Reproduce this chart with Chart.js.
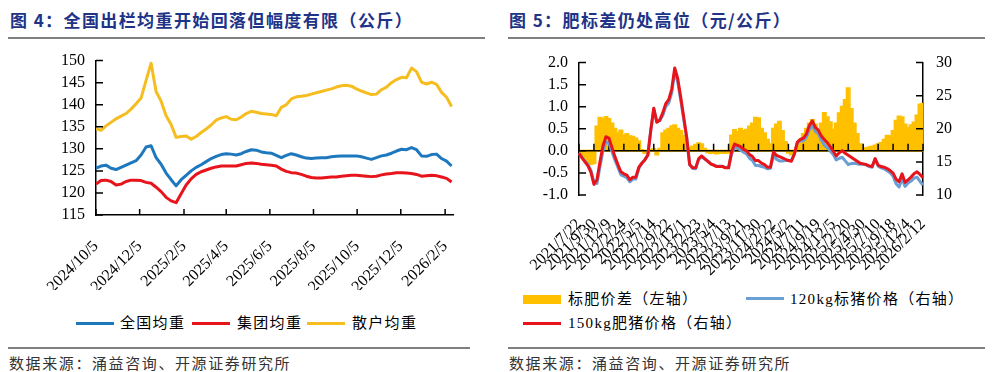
<!DOCTYPE html>
<html lang="zh-CN">
<head>
<meta charset="utf-8">
<title>出栏均重与肥标差</title>
<script src="https://cdn.jsdelivr.net/npm/chart.js@4.4.1/dist/chart.umd.min.js"></script>
<style>
  html, body { margin: 0; padding: 0; background: #fff; }
  body { width: 992px; height: 372px; position: relative; overflow: hidden; color: #000; }
  .title { position: absolute; top: 7px; font: bold 17px "Noto Sans CJK SC", sans-serif; color: #203387; letter-spacing: 1.4px; white-space: nowrap; }
  .rule { position: absolute; height: 2px; background: #7f7f7f; }
  .src { position: absolute; top: 352px; font: 15px "Noto Sans CJK SC", sans-serif; color: #333; letter-spacing: 1.6px; white-space: nowrap; }
  canvas { position: absolute; }
  .lg { position: absolute; font: 15px "Liberation Serif", "Noto Sans CJK SC", serif; letter-spacing: 1.3px; white-space: nowrap; line-height: 18px; }
  .sw { position: absolute; }
</style>
</head>
<body>
<div class="title" style="left:10px">图 4：全国出栏均重开始回落但幅度有限（公斤）</div>
<div class="rule" style="left:8px;top:37px;width:477px"></div>
<div class="title" style="left:509px">图 5：肥标差仍处高位（元/公斤）</div>
<div class="rule" style="left:508px;top:37px;width:477px"></div>

<canvas id="weight" width="496" height="250" style="left:0;top:40px"></canvas>
<canvas id="spread" width="496" height="250" style="left:496px;top:40px"></canvas>

<div class="sw" style="left:76px;top:322px;width:38px;height:3px;background:#1E78BE"></div>
<div class="lg" style="left:120px;top:314px">全国均重</div>
<div class="sw" style="left:192px;top:322px;width:38px;height:3px;background:#E8141C"></div>
<div class="lg" style="left:237px;top:314px">集团均重</div>
<div class="sw" style="left:307px;top:322px;width:38px;height:3px;background:#F5BD1F"></div>
<div class="lg" style="left:352px;top:314px">散户均重</div>

<div class="sw" style="left:523px;top:295px;width:38px;height:9px;background:#FFC000"></div>
<div class="lg" style="left:568px;top:290px">标肥价差（左轴）</div>
<div class="sw" style="left:746px;top:297px;width:38px;height:3px;background:#6A9FD6"></div>
<div class="lg" style="left:790px;top:290px">120kg标猪价格（右轴）</div>
<div class="sw" style="left:523px;top:322px;width:38px;height:3px;background:#E8141C"></div>
<div class="lg" style="left:568px;top:314px">150kg肥猪价格（右轴）</div>

<div class="rule" style="left:8px;top:347px;width:462px"></div>
<div class="src" style="left:9px">数据来源：涌益咨询、开源证券研究所</div>
<div class="rule" style="left:508px;top:347px;width:477px"></div>
<div class="src" style="left:509px">数据来源：涌益咨询、开源证券研究所</div>

<script>
// 图4 出栏均重，周度
const weightStart = '2024/10/5';
const weightTickLabels = ['2024/10/5', '2024/12/5', '2025/2/5', '2025/4/5', '2025/6/5',
  '2025/8/5', '2025/10/5', '2025/12/5', '2026/2/5'];
const nationalWeight = [125.6, 126.1, 126.3, 125.6, 125.3, 125.8, 126.3, 126.8, 127.3, 128.6,
  130.4, 130.7, 128.0, 126.5, 124.5, 123.0, 121.6, 123.0, 124.0, 125.0,
  125.8, 126.4, 127.1, 127.8, 128.3, 128.7, 128.9, 128.8, 128.6, 128.9,
  129.4, 129.8, 129.7, 129.3, 129.1, 129.0, 128.5, 128.0, 128.5, 128.9,
  128.6, 128.2, 127.9, 127.8, 127.9, 128.0, 128.0, 128.2, 128.3, 128.4,
  128.4, 128.4, 128.4, 128.2, 127.9, 127.6, 128.0, 128.4, 128.6, 129.0,
  129.5, 129.9, 129.8, 130.3, 129.8, 128.4, 128.3, 128.7, 128.8, 127.8,
  127.2, 126.1];
const groupWeight = [122.0, 122.8, 122.9, 122.6, 121.8, 122.0, 122.6, 122.9, 122.9, 122.8,
  122.4, 122.2, 121.3, 120.3, 119.0, 118.2, 117.8, 119.8, 121.8, 123.2,
  124.2, 124.8, 125.2, 125.6, 125.9, 126.1, 126.1, 126.1, 126.1, 126.4,
  126.7, 126.8, 126.7, 126.5, 126.4, 126.3, 126.1, 125.4, 124.9, 124.6,
  124.5, 124.2, 123.8, 123.5, 123.4, 123.4, 123.5, 123.6, 123.6, 123.8,
  123.9, 124.0, 124.0, 123.9, 123.8, 123.7, 123.8, 124.1, 124.3, 124.4,
  124.6, 124.6, 124.5, 124.4, 124.2, 123.8, 123.9, 124.0, 123.9, 123.6,
  123.3, 122.5];
const retailWeight = [134.6, 134.2, 135.2, 136.0, 136.8, 137.4, 138.0, 139.0, 140.2, 141.5,
  145.5, 149.4, 143.0, 140.8, 137.5, 135.5, 132.6, 132.8, 132.9, 132.2,
  132.8, 133.7, 134.5, 135.4, 136.5, 137.0, 137.3, 136.7, 136.6, 137.2,
  138.0, 138.5, 138.3, 138.0, 137.9, 137.8, 137.5, 139.4, 140.0, 141.3,
  141.8, 141.9, 142.1, 142.4, 142.7, 143.0, 143.3, 143.6, 144.0, 144.3,
  144.4, 144.2, 143.6, 143.1, 142.7, 142.3, 142.4, 143.4, 144.0, 145.0,
  145.7, 146.2, 146.1, 148.3, 147.5, 145.1, 144.7, 145.1, 144.6, 142.8,
  141.7, 139.6];

// 图5 肥标差，每个刻度间 5 个数据点
const spreadTickLabels = ['2021/7/22', '2021/9/30', '2021/12/9', '2022/2/24', '2022/5/5', '2022/7/14',
  '2022/9/22', '2022/12/1', '2023/2/23', '2023/5/4', '2023/7/13', '2023/9/21', '2023/11/30',
  '2024/2/22', '2024/5/2', '2024/7/11', '2024/9/19', '2024/12/5', '2025/2/20', '2025/4/30',
  '2025/7/10', '2025/9/18', '2025/12/4', '2026/2/12'];
const spread = [0, -0.1, -0.15, -0.25, -0.3, -0.28, 0.55, 0.75, 0.73, 0.77,
  0.72, 0.62, 0.5, 0.4, 0.46, 0.35, 0.38, 0.33, 0.32, 0.28,
  0.22, 0.02, -0.05, -0.04, 0.02, 0.04, -0.08, 0.05, 0.4, 0.46,
  0.5, 0.56, 0.58, 0.5, 0.45, 0.34, 0.05, 0.06, 0.1, 0.14,
  0.17, 0.15, 0.05, -0.03, -0.05, -0.04, -0.06, -0.05, -0.04, -0.05,
  -0.04, 0.35, 0.47, 0.43, 0.5, 0.45, 0.48, 0.55, 0.62, 0.75,
  0.74, 0.5, 0.4, 0.25, 0.15, 0.5, 0.6, 0.66, 0.45, 0.2,
  -0.04, -0.08, -0.02, 0.1, 0.25, 0.38, 0.5, 0.62, 0.7, 0.6,
  0.48, 0.62, 0.86, 0.76, 0.65, 0.48, 0.62, 0.85, 1.0, 1.15,
  1.42, 0.95, 0.62, 0.38, 0.15, 0.06, 0.06, 0.08, 0.1, 0.12,
  0.15, 0.18, 0.25, 0.34, 0.33, 0.45, 0.68, 0.78, 0.76, 0.6,
  0.52, 0.58, 0.64, 0.8, 1.05, 1.07];
const price120 = [16.3, 15.7, 15.15, 14.65, 13.7, 11.9, 11.75, 14.25, 16.65, 18.0,
  17.9, 16.6, 15.3, 14.2, 13.05, 12.85, 12.6, 12.0, 12.4, 12.4,
  14.0, 14.8, 15.35, 16.05, 19.8, 23.05, 21.1, 21.25, 22.0, 23.35,
  23.9, 25.45, 28.6, 27.1, 24.35, 21.45, 18.65, 14.55, 14.0, 13.95,
  15.35, 15.75, 15.45, 15.15, 14.75, 14.55, 14.35, 14.35, 14.35, 14.15,
  14.15, 16.15, 17.25, 17.05, 16.8, 16.45, 16.2, 15.55, 15.2, 14.45,
  14.45, 14.3, 14.2, 13.95, 14.05, 16.0, 15.4, 15.15, 15.15, 15.2,
  15.25, 15.2, 16.2, 17.9, 18.15, 18.2, 18.7, 19.9, 20.5, 19.6,
  19.3, 18.3, 17.55, 17.15, 16.65, 16.1, 15.3, 15.55, 15.7, 15.15,
  14.6, 14.75, 14.8, 14.7, 14.65, 14.65, 14.55, 14.3, 14.2, 15.4,
  14.35, 14.1, 13.95, 13.65, 13.35, 12.85, 11.7, 11.2, 12.45, 11.3,
  11.8, 12.1, 12.55, 12.7, 12.05, 11.5];
const price150 = [16.3, 15.6, 15.0, 14.4, 13.4, 11.6, 12.3, 15.0, 17.4, 18.8,
  18.6, 17.2, 15.8, 14.6, 13.5, 13.2, 13.0, 12.3, 12.7, 12.7,
  14.2, 14.8, 15.3, 16.0, 19.8, 23.1, 21.0, 21.3, 22.4, 23.8,
  24.4, 26.0, 29.2, 27.6, 24.8, 21.8, 18.7, 14.6, 14.1, 14.1,
  15.5, 15.9, 15.5, 15.1, 14.7, 14.5, 14.3, 14.3, 14.3, 14.1,
  14.1, 16.5, 17.7, 17.5, 17.3, 16.9, 16.7, 16.1, 15.8, 15.2,
  15.2, 14.8, 14.6, 14.2, 14.2, 16.5, 16.0, 15.8, 15.6, 15.4,
  15.2, 15.1, 16.2, 18.0, 18.4, 18.6, 19.2, 20.5, 21.2, 20.2,
  19.8, 18.9, 18.4, 17.9, 17.3, 16.6, 15.9, 16.4, 16.7, 16.3,
  16.0, 15.7, 15.4, 15.1, 14.8, 14.7, 14.6, 14.4, 14.3, 15.5,
  14.5, 14.3, 14.2, 14.0, 13.7, 13.3, 12.4, 12.0, 13.2, 11.9,
  12.3, 12.7, 13.2, 13.5, 13.1, 12.6];

const BLUE = '#1E78BE', RED = '#E8141C', YELLOW = '#F5BD1F';
const GOLD = '#FFC000', LIGHTBLUE = '#6A9FD6';

Chart.defaults.font.family = '"Liberation Serif", "Times New Roman", serif';
Chart.defaults.font.size = 16;
Chart.defaults.color = '#000';
Chart.defaults.animation = false;
Chart.defaults.plugins.legend.display = false;
Chart.defaults.plugins.tooltip.enabled = false;

// 日期转成距起点的天数
const day = s => {
  const [y, m, d] = s.split('/').map(Number);
  const [y0, m0, d0] = weightStart.split('/').map(Number);
  return Math.round((Date.UTC(y, m - 1, d) - Date.UTC(y0, m0 - 1, d0)) / 864e5);
};
const weekly = arr => arr.map((v, i) => ({ x: i * 7, y: v }));

const weightTicks = {
  id: 'weightTicks',
  afterDraw(chart) {
    const { ctx, chartArea: a, scales: { x, y } } = chart;
    ctx.save();
    ctx.strokeStyle = '#000';
    ctx.lineWidth = 1.5;
    ctx.beginPath();
    x.ticks.forEach(t => {
      const px = x.getPixelForValue(t.value);
      ctx.moveTo(px, a.bottom);
      ctx.lineTo(px, a.bottom - 6);
    });
    y.ticks.forEach(t => {
      const py = y.getPixelForValue(t.value);
      ctx.moveTo(a.left, py);
      ctx.lineTo(a.left + 7, py);
    });
    ctx.stroke();
    ctx.restore();
  }
};

const line = (label, data, color, extra) => Object.assign({
  label, data, borderColor: color, backgroundColor: color,
  borderWidth: 3, pointRadius: 0, borderJoinStyle: 'round', tension: 0
}, extra);

new Chart(document.getElementById('weight'), {
  type: 'line',
  data: {
    datasets: [
      line('全国均重', weekly(nationalWeight), BLUE),
      line('集团均重', weekly(groupWeight), RED),
      line('散户均重', weekly(retailWeight), YELLOW)
    ]
  },
  options: {
    responsive: false,
    layout: { padding: { top: 20, right: 43, left: 0, bottom: 0 } },
    scales: {
      x: {
        type: 'linear', min: 0, max: 499,
        grid: { display: false, drawTicks: false },
        border: { color: '#000', width: 1.5 },
        afterBuildTicks: s => { s.ticks = weightTickLabels.map(l => ({ value: day(l) })); },
        ticks: { autoSkip: false, minRotation: 45, maxRotation: 45, padding: 22,
          callback: (v, i) => weightTickLabels[i] },
        afterFit: s => { s.height = 75; }
      },
      y: {
        min: 115, max: 150,
        grid: { display: false, drawTicks: false },
        border: { color: '#000', width: 1.5 },
        ticks: { stepSize: 5, padding: 11, autoSkip: false },
        afterFit: s => { s.width = 96; }
      }
    }
  },
  plugins: [weightTicks]
});

// 图5
const categories = spread.map((_, i) => (i % 5 === 0 ? spreadTickLabels[i / 5] : ''));

const spreadAxes = {
  id: 'spreadAxes',
  afterDatasetDraw(chart, args) {
    if (args.meta.type !== 'bar') return;
    const { ctx, chartArea: a, scales: { x, y } } = chart;
    const y0 = y.getPixelForValue(0);
    ctx.save();
    ctx.strokeStyle = '#000';
    ctx.lineWidth = 1.5;
    ctx.beginPath();
    ctx.moveTo(a.left, y0);
    ctx.lineTo(a.right, y0);
    categories.forEach((c, i) => {
      if (!c) return;
      const px = x.getPixelForTick(i);
      ctx.moveTo(px, y0);
      ctx.lineTo(px, y0 - 7);
    });
    ctx.stroke();
    ctx.restore();
  },
  afterDraw(chart) {
    const { ctx, chartArea: a, scales: { y, y1 } } = chart;
    ctx.save();
    ctx.strokeStyle = '#000';
    ctx.lineWidth = 1.5;
    ctx.beginPath();
    y.ticks.forEach(t => {
      const py = y.getPixelForValue(t.value);
      ctx.moveTo(a.left, py);
      ctx.lineTo(a.left + 7, py);
    });
    y1.ticks.forEach(t => {
      const py = y1.getPixelForValue(t.value);
      ctx.moveTo(a.right, py);
      ctx.lineTo(a.right - 7, py);
    });
    ctx.stroke();
    ctx.restore();
  }
};

new Chart(document.getElementById('spread'), {
  type: 'bar',
  data: {
    labels: categories,
    datasets: [
      line('150kg肥猪价格（右轴）', price150, RED, { type: 'line', yAxisID: 'y1', order: 1 }),
      line('120kg标猪价格（右轴）', price120, LIGHTBLUE, { type: 'line', yAxisID: 'y1', order: 2 }),
      {
        type: 'bar', label: '标肥价差（左轴）', data: spread, yAxisID: 'y', order: 3,
        backgroundColor: GOLD, borderWidth: 0, barPercentage: 1, categoryPercentage: 1,
        inflateAmount: 1
      }
    ]
  },
  options: {
    responsive: false,
    layout: { padding: { top: 22, right: 0, left: 0, bottom: 0 } },
    scales: {
      x: {
        offset: false,
        grid: { display: false, drawTicks: false, offset: false },
        border: { display: false },
        ticks: { autoSkip: false, minRotation: 45, maxRotation: 45, padding: 20 },
        afterFit: s => { s.height = 95; }
      },
      y: {
        position: 'left', min: -1, max: 2,
        grid: { display: false, drawTicks: false },
        border: { color: '#000', width: 1.5 },
        ticks: { stepSize: 0.5, padding: 11, autoSkip: false, callback: v => v.toFixed(1) },
        afterFit: s => { s.width = 83; }
      },
      y1: {
        position: 'right', min: 10, max: 30,
        grid: { display: false, drawTicks: false },
        border: { color: '#000', width: 1.5 },
        ticks: { stepSize: 5, padding: 13, autoSkip: false },
        afterFit: s => { s.width = 69; }
      }
    }
  },
  plugins: [spreadAxes]
});
</script>
</body>
</html>
